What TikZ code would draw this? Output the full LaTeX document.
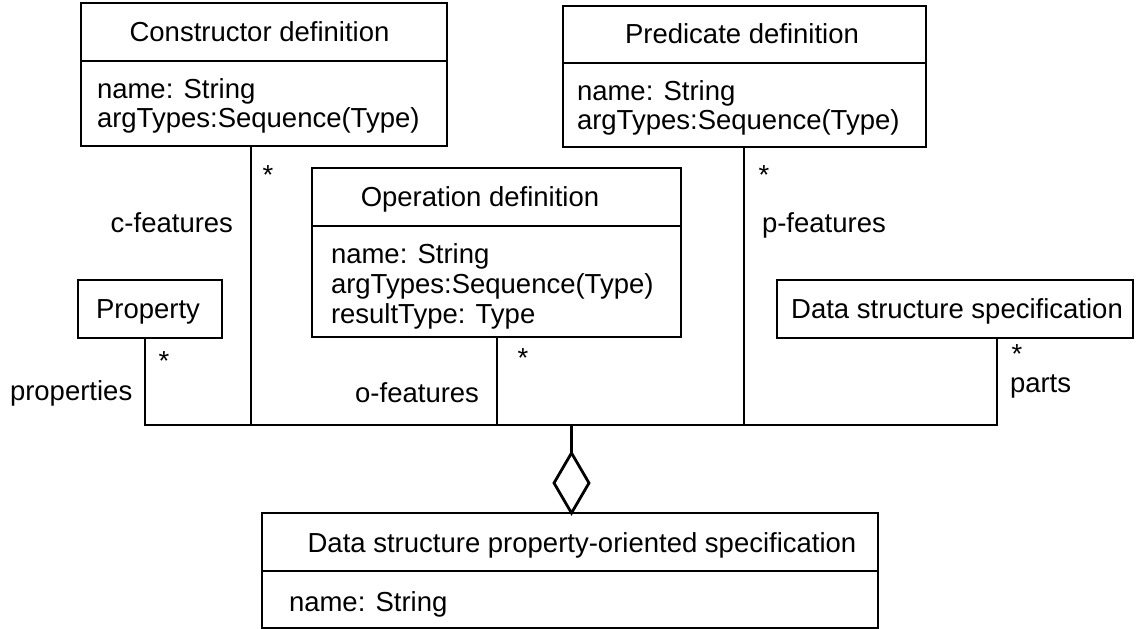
\documentclass[tikz,border=0pt]{standalone}
\usepackage{fontspec}
\setmainfont{Liberation Sans}
\usetikzlibrary{shapes.geometric}
\begin{document}
\begin{tikzpicture}[x=1pt,y=-1pt,
  line width=2.8pt,
  classbox/.style={draw, line width=2.8pt, inner sep=0pt, outer sep=0pt},
  txt/.style={inner sep=0pt, outer sep=0pt, font=\fontsize{27.5}{32}\selectfont},
  ttl/.style={txt, anchor=base},
  attr/.style={txt, anchor=base west},
  role/.style={txt, anchor=base},
  aggr/.style={draw, diamond, line width=2.8pt, inner sep=0pt, outer sep=0pt,
    minimum width=35pt, minimum height=60pt}]
\useasboundingbox (0,0) rectangle (1141,629);

% class boxes
\node[classbox, minimum width=366pt, minimum height=143pt] (cons) at (264,74.5) {};
\node[classbox, minimum width=363pt, minimum height=141pt] (pred) at (744.5,76.5) {};
\node[classbox, minimum width=369pt, minimum height=169pt] (oper) at (496.5,252.5) {};
\node[classbox, minimum width=144pt, minimum height=58pt] (prop) at (150,309) {};
\node[classbox, minimum width=356pt, minimum height=58pt] (dss) at (955,309) {};
\node[classbox, minimum width=616pt, minimum height=115pt] (dspo) at (570,570.5) {};

% compartment dividers
\draw (cons.west |- 0,61) -- (cons.east |- 0,61);
\draw (pred.west |- 0,63) -- (pred.east |- 0,63);
\draw (oper.west |- 0,226) -- (oper.east |- 0,226);
\draw (dspo.west |- 0,571) -- (dspo.east |- 0,571);

% class names
\node[ttl] (consT) at (259.5,41) {Constructor definition};
\node[ttl] (predT) at (742,43) {Predicate definition};
\node[ttl] (operT) at (480,206) {Operation definition};
\node[ttl] (propT) at (148,318) {Property};
\node[ttl] (dssT) at (957,318) {Data structure specification};
\node[ttl] (dspoT) at (582,552) {Data structure property-oriented specification};

% attributes
\node[attr] (consA1) at (97,98) {name: String};
\node[attr] (consA2) at (97,127) {argTypes:Sequence(Type)};
\node[attr] (predA1) at (577,100) {name: String};
\node[attr] (predA2) at (577,129) {argTypes:Sequence(Type)};
\node[attr] (operA1) at (331,263) {name: String};
\node[attr] (operA2) at (331,293) {argTypes:Sequence(Type)};
\node[attr] (operA3) at (331,323) {resultType: Type};
\node[attr] (dspoA1) at (289,611) {name: String};

% junction points of the aggregation
\coordinate (jp) at (145,425);
\coordinate (jc) at (251,425);
\coordinate (jo) at (497,425);
\coordinate (jq) at (744,425);
\coordinate (jd) at (997,425);
\coordinate (ja) at (571.5,425);

\node[aggr] (agg) at (571.5,483) {};

% connectors
\draw (prop.south -| jp) -- (jp) -- (jd) -- (dss.south -| jd);
\draw (cons.south -| jc) -- (jc);
\draw (oper.south -| jo) -- (jo);
\draw (pred.south -| jq) -- (jq);
\draw (ja) -- (agg.north);

% role names and multiplicities
\node[txt, anchor=base east] (rc) at (233,232) {c-features};
\node[role] (mc) at (268,184) {*};
\node[txt, anchor=base west] (rq) at (762,232) {p-features};
\node[role] (mq) at (764,184) {*};
\node[txt, anchor=base west] (rp) at (10,400) {properties};
\node[role] (mp) at (164,370) {*};
\node[txt, anchor=base east] (ro) at (479,402) {o-features};
\node[role] (mo) at (523,367) {*};
\node[txt, anchor=base west] (rd) at (1010,392) {parts};
\node[role] (md) at (1017,363) {*};
\end{tikzpicture}
\end{document}
